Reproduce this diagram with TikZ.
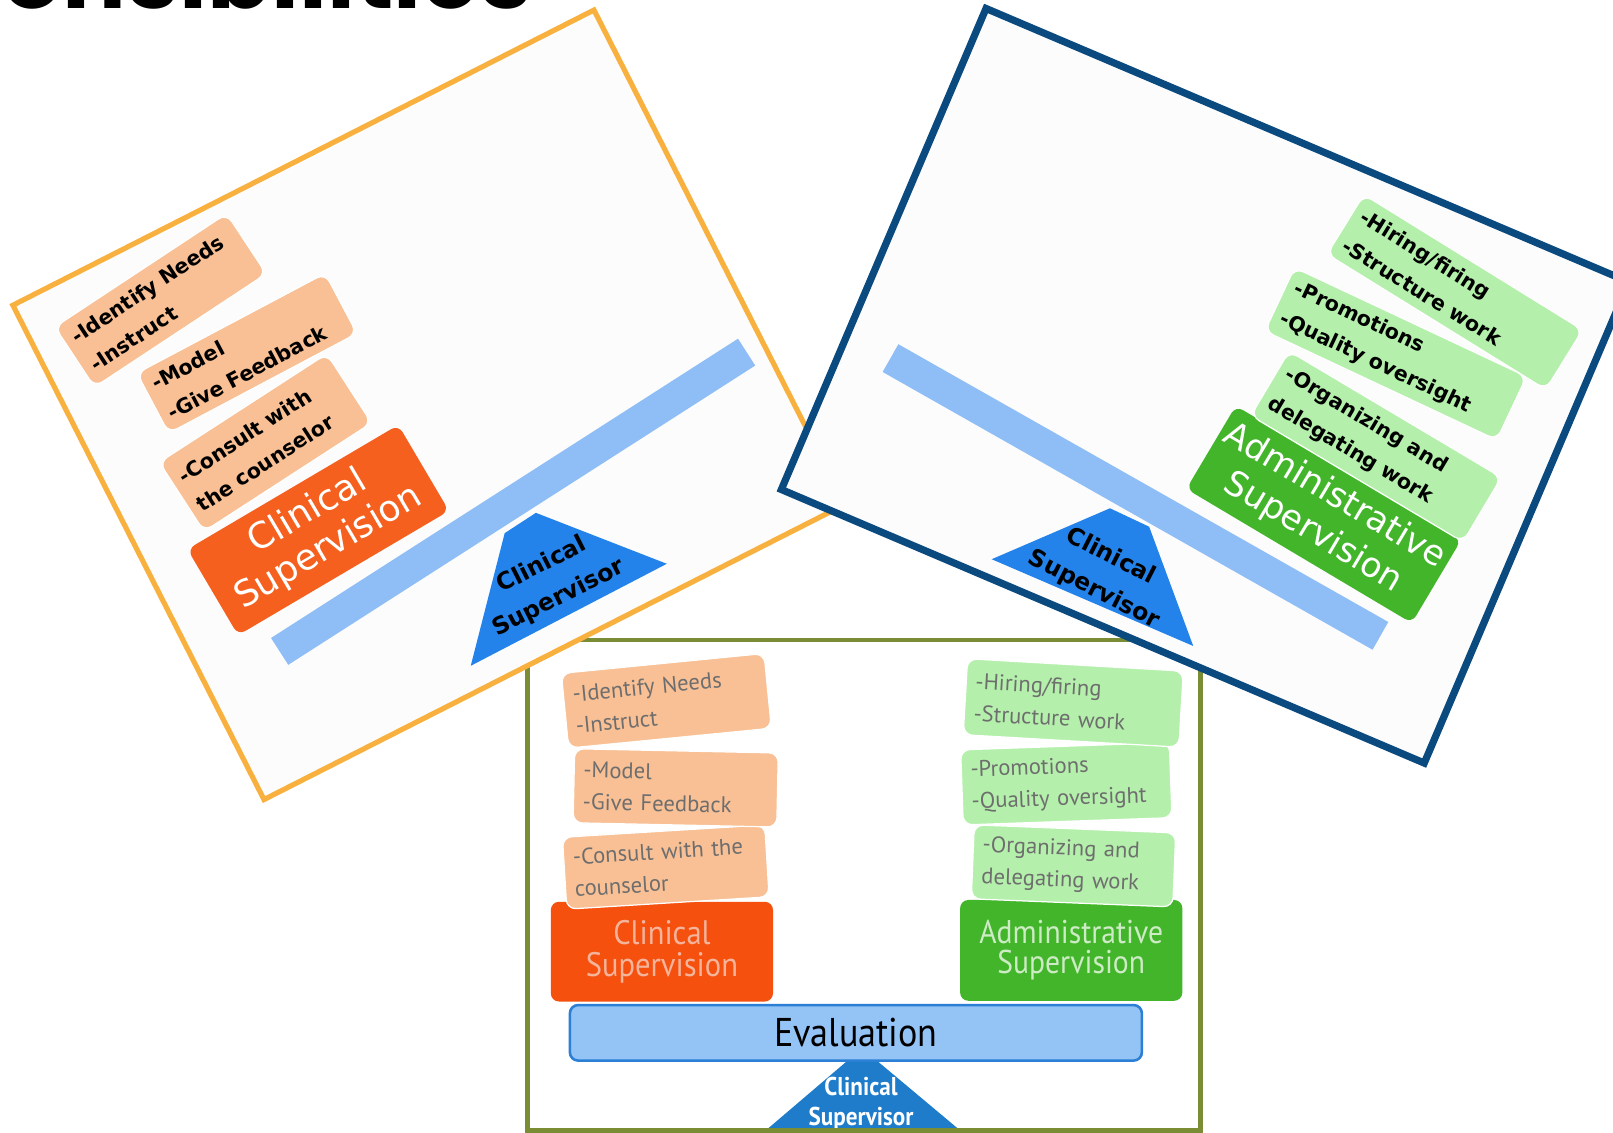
\documentclass[tikz,border=0pt]{standalone}
\usepackage{fontspec}
\setmainfont{DejaVu Sans}
\newfontfamily\titlefont{Poppins}
\newfontfamily\dvfont{DejaVu Sans}
\newfontfamily\ptfont{PT Sans}
\newfontfamily\condfont{PT Sans}[FakeStretch=0.9]
\definecolor{cardfill}{HTML}{FCFCFC}
\definecolor{borderorange}{HTML}{F8B13F}
\definecolor{bordernavy}{HTML}{0B4A7F}
\definecolor{borderolive}{HTML}{7A8C34}
\definecolor{clinorange}{HTML}{F5601F}
\definecolor{clinorangeB}{HTML}{F5500E}
\definecolor{peach}{HTML}{F8C094}
\definecolor{lightgreen}{HTML}{B4F0AB}
\definecolor{admingreen}{HTML}{43B52B}
\definecolor{pivotblue}{HTML}{2383EB}
\definecolor{pivotblueB}{HTML}{1E7CCB}
\definecolor{beamblue}{HTML}{8EBEF5}
\definecolor{evalfill}{HTML}{94C3F6}
\definecolor{evalborder}{HTML}{2B7FD5}
\definecolor{itemgray}{HTML}{6E6E6E}
\definecolor{clintext}{HTML}{F4B49C}
\definecolor{admintext}{HTML}{CDEBC4}
\begin{document}
\begin{tikzpicture}[x=1pt,y=-1pt,
  every node/.style={inner sep=0pt},
  itembox/.style={rounded corners=9pt, draw=white, line width=1.2pt, inner xsep=9pt, inner ysep=0pt, align=left},
  boldtext/.style={font=\dvfont\bfseries\fontsize{20}{33}\selectfont, text=black},
  graytext/.style={font=\ptfont\fontsize{22}{31}\selectfont, text=itemgray},
  sz/.style 2 args={text width=#1, minimum height=#2},
  bigbox/.style={rounded corners=8pt, align=center, inner sep=0pt},
  beam/.style={draw=beamblue, line width=31pt, line cap=butt},
  pivottext/.style={font=\dvfont\bfseries\fontsize{23}{36}\selectfont, text=black, align=center}
]
\useasboundingbox (0,0) rectangle (1568,1101);
\clip (0,0) rectangle (1568,1101);

% title, cut at the top
\node[font=\titlefont\bfseries\fontsize{92}{92}\selectfont, anchor=base west] (title) at (2,8) {onsibilities};

% ---------------- card 3 (bottom, olive) ----------------
\fill[white] (513,622) rectangle (1167,1099);
\begin{scope}
  \clip (513,622) rectangle (1167,1099);
  \fill[pivotblueB] (838,1019) -- (729,1112) -- (949,1112) -- cycle;
  \node[font=\condfont\bfseries\fontsize{25}{29}\selectfont, text=white, align=center] (pt3) at (837,1073) {Clinical\\Supervisor};
  \node[bigbox, fill=evalfill, draw=evalborder, line width=2.5pt, minimum width=556pt, minimum height=54pt,
        font=\condfont\fontsize{39}{39}\selectfont] (ev3) at (832,1004) {Evaluation};
  \node[bigbox, fill=clinorangeB, minimum width=216pt, minimum height=97pt, text=clintext,
        font=\condfont\fontsize{33}{31}\selectfont] (cs3) at (643.45,925.1) {Clinical\\Supervision};
  \node[bigbox, fill=admingreen, minimum width=216pt, minimum height=98pt, text=admintext,
        font=\condfont\fontsize{32}{29}\selectfont] (as3) at (1041.35,923.85) {Administrative\\Supervision};
  \node[itembox, graytext, fill=peach, rotate=3.5, sz={179pt}{70pt}] (co3) at (647.2,842.85) {-Consult with the\\counselor};
  \node[itembox, graytext, fill=peach, rotate=-1.2, sz={180pt}{72pt}] (mo3) at (656.85,765.9) {-Model\\-Give Feedback};
  \node[itembox, graytext, fill=peach, rotate=5.6, sz={180pt}{73pt}] (id3) at (647.75,681.25) {-Identify Needs\\-Instruct};
  \node[itembox, graytext, fill=lightgreen, rotate=-2.3, sz={178pt}{72pt}] (or3) at (1043.55,841.7) {-Organizing and\\delegating work};
  \node[itembox, graytext, fill=lightgreen, rotate=2, sz={185pt}{73pt}] (pr3) at (1036.55,761.9) {-Promotions\\-Quality oversight};
  \node[itembox, graytext, fill=lightgreen, rotate=-3.3, sz={192pt}{74pt}] (hi3) at (1043.3,683.3) {-Hiring/firing\\-Structure work};
\end{scope}
\draw[borderolive, line width=4.5pt] (513,622) rectangle (1167,1099);

% ---------------- card 1 (left, orange) ----------------
\begin{scope}[shift={(417,393.5)}, rotate=26.93, transform shape]
  \fill[cardfill] (-316.8,-269.5) rectangle (316.8,269.5);
  \fill[pivotblue] (-78.7,244.6) -- (9.1,144.6) -- (45.1,140.7) -- (136.1,242.5) -- cycle;
  \node[pivottext] (pt1) at (27.4,206.8) {Clinical\\Supervisor};
  \coordinate (b1a) at (-238,148);
  \coordinate (b1b) at (298.5,94.2);
  \draw[beam] (b1a) -- (b1b);
  \node[bigbox, fill=clinorange, rotate=3.6, minimum width=238pt, minimum height=97pt, text=white,
        font=\dvfont\fontsize{35}{40}\selectfont] (cs1) at (-151.15,59.8) {Clinical\\Supervision};
  \node[itembox, boldtext, fill=peach, rotate=6, sz={176pt}{80pt}] (co1) at (-158.4,-39.25) {-Consult with\\the counselor};
  \node[itembox, boldtext, fill=peach, rotate=1, sz={189pt}{66pt}] (mo1) at (-135.1,-124.8) {-Model\\-Give Feedback};
  \node[itembox, boldtext, fill=peach, rotate=6.5, sz={182pt}{70pt}] (id1) at (-186.65,-208.7) {-Identify Needs\\-Instruct};
  \draw[borderorange, line width=5pt] (-316.8,-269.5) rectangle (316.8,269.5);
\end{scope}

% ---------------- card 2 (right, navy) ----------------
\begin{scope}[shift={(1171.5,375)}, rotate=-23.05, transform shape]
  \fill[cardfill] (-339.6,-254.1) rectangle (339.6,254.1);
  \fill[pivotblue] (-124.9,236.4) -- (-38.5,145.8) -- (3.6,147.4) -- (88.4,237.3) -- cycle;
  \node[pivottext, rotate=-4] (pt2) at (-20.5,206.8) {Clinical\\Supervisor};
  \coordinate (b2a) at (-292,95);
  \coordinate (b2b) at (252,157);
  \draw[beam] (b2a) -- (b2b);
  \node[bigbox, fill=admingreen, rotate=-7.7, minimum width=255pt, minimum height=94pt, text=white,
        font=\dvfont\fontsize{33.5}{41}\selectfont] (as2) at (155.1,69.95) {Administrative\\Supervision};
  \node[itembox, boldtext, fill=lightgreen, rotate=-7.7, sz={222pt}{73pt}] (or2) at (176.05,-10.65) {-Organizing and\\delegating work};
  \node[itembox, boldtext, fill=lightgreen, rotate=-2.1, sz={231pt}{68pt}] (pr2) at (158.3,-101.1) {-Promotions\\-Quality oversight};
  \node[itembox, boldtext, fill=lightgreen, rotate=-8.7, sz={232pt}{68pt}] (hi2) at (187.7,-178.85) {-Hiring/firing\\-Structure work};
  \draw[bordernavy, line width=7pt] (-339.6,-254.1) rectangle (339.6,254.1);
\end{scope}
\end{tikzpicture}
\end{document}
